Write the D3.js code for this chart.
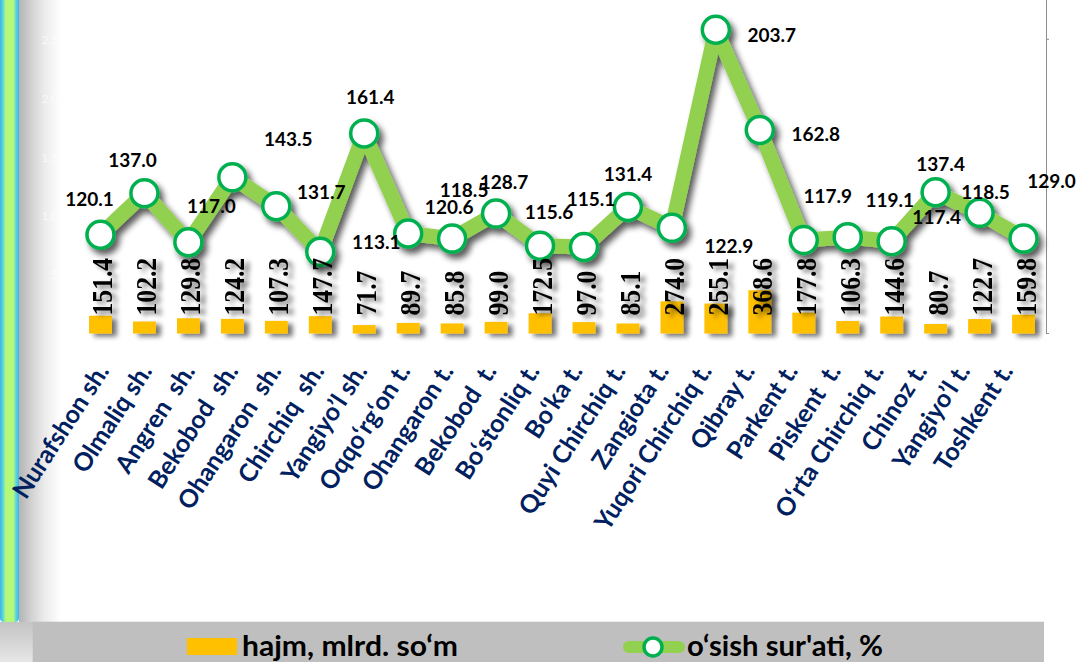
<!DOCTYPE html>
<html>
<head>
<meta charset="utf-8">
<script src="https://cdn.jsdelivr.net/npm/d3@7"></script>
<style>
  html, body { margin: 0; padding: 0; background: #ffffff; }
  svg { display: block; }
</style>
</head>
<body>
<svg id="chart" width="1080" height="662"></svg>
<script>
// ---------------- data ----------------
const categories = ["Nurafshon sh.", "Olmaliq sh.", "Angren  sh.", "Bekobod  sh.", "Ohangaron  sh.", "Chirchiq  sh.",
  "Yangiyo’l sh.", "Oqqo‘rg‘on t.", "Ohangaron t.", "Bekobod  t.", "Bo‘stonliq t.", "Bo‘ka t.",
  "Quyi Chirchiq t.", "Zangiota t.", "Yuqori Chirchiq t.", "Qibray t.", "Parkent t.", "Piskent  t.",
  "O‘rta Chirchiq t.", "Chinoz t.", "Yangiyo’l t.", "Toshkent t."];
const volume = [151.4, 102.2, 129.8, 124.2, 107.3, 147.7, 71.7, 89.7, 85.8, 99.0, 172.5, 97.0,
  85.1, 274.0, 255.1, 368.6, 177.8, 106.3, 144.6, 80.7, 122.7, 159.8];
const growth = [120.1, 137.0, 117.0, 143.5, 131.7, 113.1, 161.4, 120.6, 118.5, 128.7, 115.6, 115.1,
  131.4, 122.9, 203.7, 162.8, 117.9, 119.1, 117.4, 137.4, 129.0, 118.5];
const leftTicks = [0, 500, 1000, 1500, 2000, 2500];
const rightTicks = [80, 140, 200];
const seriesNames = ["hajm, mlrd. so‘m", "o‘sish sur'ati, %"];

// label placement (offset of each growth label from its marker), layout only
const labelOffsets = [[-11,-36],[-12,-34],[23,-37],[56,-39],[45,-15],[56,-10],[6,-37],[41,-27],[12,-49],[8,-32],[9,-34],[7,-48],
  [0,-33],[57,18],[56,5],[56,4],[24,-45],[42,-38],[45,-25],[5,-29],[72,-32],[-38,-47]];

// ---------------- setup ----------------
const svg = d3.select("#chart");
const defs = svg.append("defs");

function shadow(id, sd, dx, dy, op) {
  const f = defs.append("filter").attr("id", id)
    .attr("x", "-30%").attr("y", "-30%").attr("width", "170%").attr("height", "170%");
  f.append("feGaussianBlur").attr("in", "SourceAlpha").attr("stdDeviation", sd);
  f.append("feOffset").attr("dx", dx).attr("dy", dy).attr("result", "o");
  const ct = f.append("feComponentTransfer");
  ct.append("feFuncA").attr("type", "linear").attr("slope", op);
  const m = f.append("feMerge");
  m.append("feMergeNode");
  m.append("feMergeNode").attr("in", "SourceGraphic");
}
shadow("shLine", 3, 4, 5, 0.65);
shadow("shBar", 2.5, 5, 3, 0.55);

// left decorative strip
const g1 = defs.append("linearGradient").attr("id", "stripe").attr("x1", 0).attr("x2", 1).attr("y1", 0).attr("y2", 0);
[[0, "#3fb2e8"], [0.15, "#58d6e0"], [0.3, "#b6f878"], [0.7, "#b6f878"], [0.85, "#58d6e0"], [1, "#3fb2e8"]]
  .forEach(s => g1.append("stop").attr("offset", s[0]).attr("stop-color", s[1]));
const g2 = defs.append("linearGradient").attr("id", "greyfade").attr("x1", 0).attr("x2", 1).attr("y1", 0).attr("y2", 0);
[[0, "#b4b4b4"], [0.3, "#d2d2d2"], [0.6, "#ebebeb"], [1, "#ffffff"]]
  .forEach(s => g2.append("stop").attr("offset", s[0]).attr("stop-color", s[1]));
const g3 = defs.append("linearGradient").attr("id", "greydown").attr("x1", 0).attr("x2", 0).attr("y1", 0).attr("y2", 1);
[[0, "#c4c4c4"], [1, "#e6e6e6"]]
  .forEach(s => g3.append("stop").attr("offset", s[0]).attr("stop-color", s[1]));

svg.append("rect").attr("x", 19).attr("y", 0).attr("width", 42).attr("height", 622).attr("fill", "url(#greyfade)");
svg.append("rect").attr("x", 0).attr("y", 622).attr("width", 33).attr("height", 40).attr("fill", "url(#greydown)");
svg.append("rect").attr("x", 0).attr("y", -10).attr("width", 19).attr("height", 632).attr("rx", 4).attr("fill", "url(#stripe)");

// ---------------- scales ----------------
const x = d3.scaleBand().domain(categories).range([78.5, 1045.5]).paddingInner(0.48).paddingOuter(0.24);
const xLab = d3.scalePoint().domain(categories).range([110, 1014]);
const yL = d3.scaleLinear().domain([0, 2500]).range([333.5, 40]);
const yR = d3.scaleLinear().domain([80, 216]).range([333, -0.43]);
const cx = d => x(d) + x.bandwidth() / 2;

// left axis (white, nearly invisible labels)
const axL = svg.append("g").attr("transform", "translate(78,0)")
  .call(d3.axisLeft(yL).tickValues(leftTicks).tickSize(0).tickPadding(6));
axL.select(".domain").remove();
axL.selectAll("text").attr("fill", "#ffffff").attr("fill-opacity", 0.7)
  .style("font-family", "Lato, sans-serif").style("font-size", "12px");

// right axis
const axR = svg.append("g").attr("transform", "translate(1046,0)")
  .call(d3.axisRight(yR).tickValues(rightTicks).tickSize(3).tickSizeOuter(0).tickFormat(""));
axR.select(".domain").attr("stroke", "#8c8c8c");
axR.selectAll(".tick line").attr("stroke", "#8c8c8c");

// ---------------- bars ----------------
svg.append("g").attr("filter", "url(#shBar)")
  .selectAll("rect").data(categories).join("rect")
  .attr("x", d => x(d)).attr("width", x.bandwidth())
  .attr("y", (d, i) => yL(volume[i]))
  .attr("height", (d, i) => yL(0) - yL(volume[i]))
  .attr("fill", "#ffc000");

// ---------------- line ----------------
const lg = svg.append("g").attr("filter", "url(#shLine)");
const line = d3.line().x((d, i) => cx(categories[i])).y(d => yR(d));
lg.append("path").datum(growth).attr("d", line)
  .attr("fill", "none").attr("stroke", "#92d050").attr("stroke-width", 15)
  .attr("stroke-linejoin", "round").attr("stroke-linecap", "round");
lg.selectAll("circle").data(growth).join("circle")
  .attr("cx", (d, i) => cx(categories[i])).attr("cy", d => yR(d))
  .attr("r", 13.5).attr("fill", "#ffffff").attr("stroke", "#00b050").attr("stroke-width", 3.5);

// ---------------- bar value labels ----------------
svg.append("g").attr("filter", "url(#shBar)")
  .selectAll("text").data(volume).join("text")
  .attr("transform", (d, i) => `translate(${cx(categories[i]) + 12},315.5) rotate(-90) scale(0.87,1)`)
  .attr("text-anchor", "start")
  .style("font-family", "'Liberation Serif', 'Times New Roman', serif")
  .style("font-weight", "bold").style("font-size", "29.5px").attr("fill", "#000")
  .text(d => d.toFixed(1));

// ---------------- growth labels ----------------
svg.append("g").selectAll("text").data(growth).join("text")
  .attr("x", (d, i) => cx(categories[i]) + labelOffsets[i][0])
  .attr("y", (d, i) => yR(d) + labelOffsets[i][1])
  .attr("text-anchor", "middle").attr("dominant-baseline", "central")
  .style("font-family", "Lato, sans-serif").style("font-weight", "bold").style("font-size", "19px")
  .attr("fill", "#000").text(d => d.toFixed(1));

// ---------------- category labels ----------------
svg.append("g").selectAll("text").data(categories).join("text")
  .attr("transform", d => `translate(${xLab(d)},371) rotate(-57)`)
  .attr("text-anchor", "end")
  .style("font-family", "Lato, sans-serif").style("font-weight", "bold").style("font-size", "25px")
  .style("white-space", "pre").attr("xml:space", "preserve")
  .attr("fill", "#002060").text(d => d);

// ---------------- legend ----------------
svg.append("rect").attr("x", 32.7).attr("y", 621.7).attr("width", 1011.3).attr("height", 41).attr("fill", "#bfbfbf");
svg.append("rect").attr("x", 187).attr("y", 638).attr("width", 50).attr("height", 17).attr("fill", "#ffc000");
svg.append("text").attr("x", 242).attr("y", 656).attr("textLength", 216).attr("lengthAdjust", "spacingAndGlyphs")
  .style("font-family", "Lato, sans-serif").style("font-weight", "bold").style("font-size", "28px")
  .attr("fill", "#000").text(seriesNames[0]);
svg.append("line").attr("x1", 629).attr("x2", 679).attr("y1", 647).attr("y2", 647)
  .attr("stroke", "#92d050").attr("stroke-width", 12).attr("stroke-linecap", "round");
svg.append("circle").attr("cx", 653).attr("cy", 647).attr("r", 9)
  .attr("fill", "#fff").attr("stroke", "#00b050").attr("stroke-width", 3.5);
svg.append("text").attr("x", 687).attr("y", 656).attr("textLength", 196).attr("lengthAdjust", "spacingAndGlyphs")
  .style("font-family", "Lato, sans-serif").style("font-weight", "bold").style("font-size", "28px")
  .attr("fill", "#000").text(seriesNames[1]);
</script>
</body>
</html>
